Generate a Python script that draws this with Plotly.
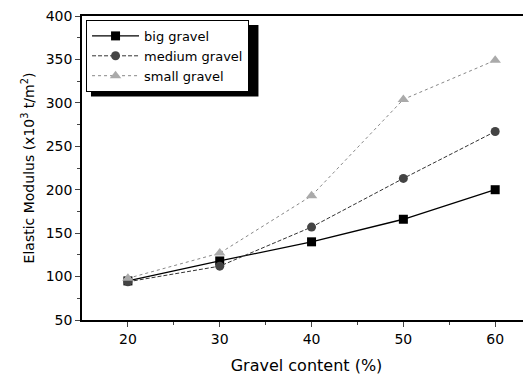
import plotly.graph_objects as go

gravel_content = [20, 30, 40, 50, 60]
big_gravel = [95, 118, 140, 166, 200]
medium_gravel = [94, 112, 157, 213, 267]
small_gravel = [98, 127, 193, 304, 349]

fig = go.Figure()
fig.add_trace(go.Scatter(x=gravel_content, y=big_gravel, name="big gravel", mode="lines+markers",
                         line=dict(color="black", width=1.3),
                         marker=dict(symbol="square", size=9, color="black")))
fig.add_trace(go.Scatter(x=gravel_content, y=medium_gravel, name="medium gravel", mode="lines+markers",
                         line=dict(color="#333333", width=1, dash="4px,2px"),
                         marker=dict(symbol="circle", size=9, color="#444444")))
fig.add_trace(go.Scatter(x=gravel_content, y=small_gravel, name="small gravel", mode="lines+markers",
                         line=dict(color="#888888", width=1, dash="dot"),
                         marker=dict(symbol="triangle-up", size=10, color="#aaaaaa")))

# legend shadow (paper coords of a 449x304 plot area)
fig.add_shape(type="rect", xref="paper", yref="paper", x0=0.02, x1=0.393, y0=0.735, y1=0.970,
              fillcolor="black", line=dict(width=0), layer="below")

fig.update_layout(
    width=523, height=368,
    margin=dict(l=74, r=0, t=8, b=56),
    paper_bgcolor="white", plot_bgcolor="white",
    font=dict(family="DejaVu Sans, sans-serif", size=13, color="black"),
    showlegend=True,
    legend=dict(x=0.009, y=0.987, xanchor="left", yanchor="top",
                bgcolor="white", bordercolor="black", borderwidth=1,
                font=dict(size=13), tracegroupgap=0, itemwidth=47),
    xaxis=dict(range=[15, 63.9], tickvals=[20, 30, 40, 50, 60], ticks="outside", ticklen=5,
               showline=True, linecolor="black", linewidth=1.5, mirror=True, showgrid=False,
               zeroline=False, tickfont=dict(size=14), automargin=False, ticklabeloverflow="allow",
               minor=dict(tickvals=[25, 35, 45, 55], ticks="outside", ticklen=3),
               title=dict(text="Gravel content (%)", font=dict(size=16), standoff=14)),
    yaxis=dict(range=[50, 400], tickvals=[50, 100, 150, 200, 250, 300, 350, 400], ticks="outside",
               ticklen=5, showline=True, linecolor="black", linewidth=1.5, showgrid=False,
               zeroline=False, tickfont=dict(size=14), automargin=False, ticklabeloverflow="allow",
               minor=dict(tickvals=[75, 125, 175, 225, 275, 325, 375], ticks="outside", ticklen=3),
               title=dict(text="Elastic Modulus (x10<sup>3</sup> t/m<sup>2</sup>)", font=dict(size=14), standoff=8)),
)

fig.write_html("out.html")
